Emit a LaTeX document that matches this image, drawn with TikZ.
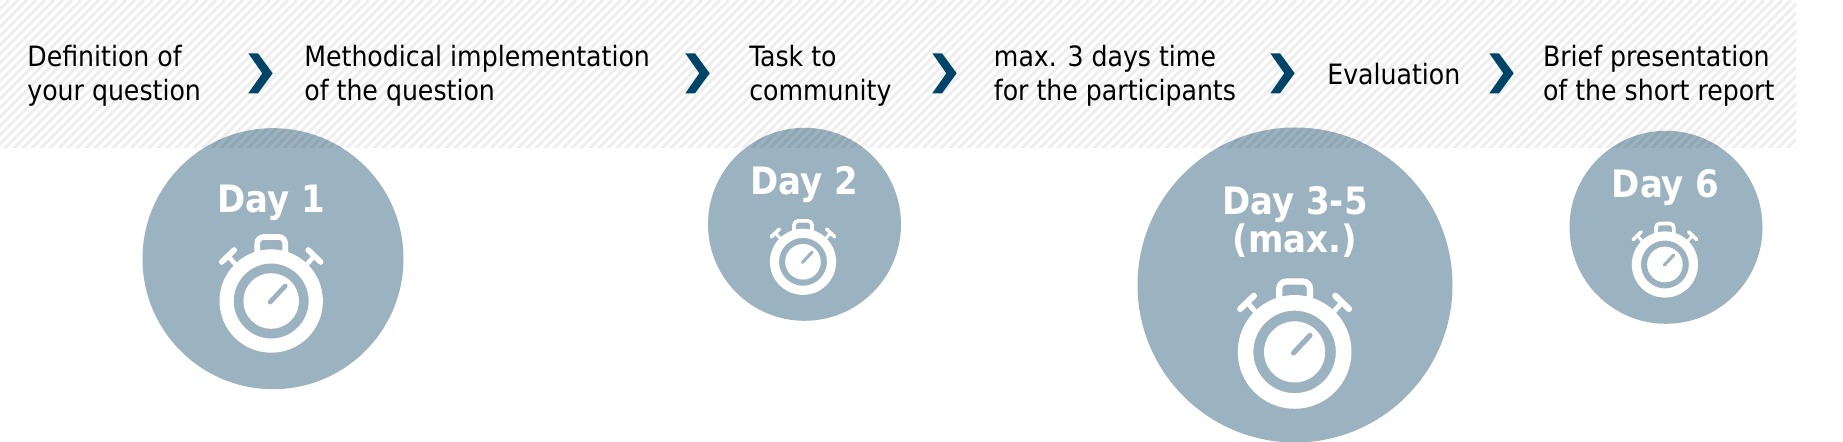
\documentclass[tikz,border=0pt]{standalone}
\usepackage{fontspec}
\setmainfont{DejaVu Sans Condensed}
\definecolor{disc}{HTML}{9BB3C0}
\definecolor{chev}{HTML}{004468}
\tikzset{
  stepnote/.style={anchor=west,align=left,font=\fontsize{15.95pt}{19.6pt}\selectfont,inner sep=0pt},
  daylabel/.style={align=center,text=white,font=\bfseries\fontsize{21.5pt}{21.8pt}\selectfont,inner sep=0pt},
  daydisc/.style={circle,fill=disc,inner sep=0pt,minimum size=#1*0.02cm}
}
% x y scale w: stopwatch, the centre of its face at (x,y)
\newcommand{\stopwatch}[3]{
  \begin{scope}[shift={(#1,#2)},scale=#3,line cap=round,white]
    \draw[line width=#3*3.2pt,rounded corners=#3*0.13cm] (-14,-40) -- (-14,-64) -- (14,-64) -- (14,-40);
    \draw[line width=#3*2.6pt] (30,-30) -- (43,-45);
    \draw[line width=#3*2.6pt] (-30,-30) -- (-43,-45);
    \draw[line width=#3*3.2pt] (37,-51) -- (49.5,-39);
    \draw[line width=#3*3.2pt] (-37,-51) -- (-49.5,-39);
    \fill[even odd rule] (0,0) circle (51.7) (0,0) circle (37.5);
    \fill (0,0) circle (27.8);
    \draw[disc,line width=#3*2.7pt] (-1,1) -- (14,-15);
  \end{scope}
}
\begin{document}
\begin{tikzpicture}[x=0.02cm,y=-0.02cm]
  \useasboundingbox (0,0) rectangle (1843,442);
  \node[daydisc=261] (d1) at (273,258.7) {};
  \node[daydisc=193] (d2) at (804.5,224.3) {};
  \node[daydisc=315] (d3) at (1295,285) {};
  \node[daydisc=193] (d6) at (1666,227.3) {};
  \begin{scope}
    \clip (0,0) rectangle (1796,147.5);
    \foreach \i in {0,9,...,1960}
      \draw[black,opacity=0.065,line width=1.8pt] (\i,0) -- (\i-150,150);
  \end{scope}
  \foreach \cx in {0,437,684,1022,1241}
    \fill[chev] (248.3+\cx,53.3) -- (258+\cx,53.3) -- (272.7+\cx,73.3) -- (258+\cx,93.3)
      -- (248.3+\cx,93.3) -- (262.3+\cx,73.3) -- cycle;
  \node[stepnote] (s1) at (27,75.5) {Definition of\\your question};
  \node[stepnote] (s2) at (304,75.5) {Methodical implementation\\of the question};
  \node[stepnote] (s3) at (749,75.5) {Task to\\community};
  \node[stepnote] (s4) at (993.6,75.5) {max. 3 days time\\for the participants};
  \node[stepnote] (s5) at (1327,74.5) {Evaluation};
  \node[stepnote] (s6) at (1542.7,75.5) {Brief presentation\\of the short report};
  \node[daylabel] (l1) at (271,202.5) {Day 1};
  \node[daylabel] (l2) at (804,184.5) {Day 2};
  \node[daylabel] (l3) at (1295,222) {Day 3-5\\(max.)};
  \node[daylabel] (l6) at (1665.7,187.5) {Day 6};
  \stopwatch{271.2}{301}{1}
  \stopwatch{803}{261.8}{0.64}
  \stopwatch{1294.6}{351.9}{1.1}
  \stopwatch{1664.9}{264.5}{0.64}
\end{tikzpicture}
\end{document}
